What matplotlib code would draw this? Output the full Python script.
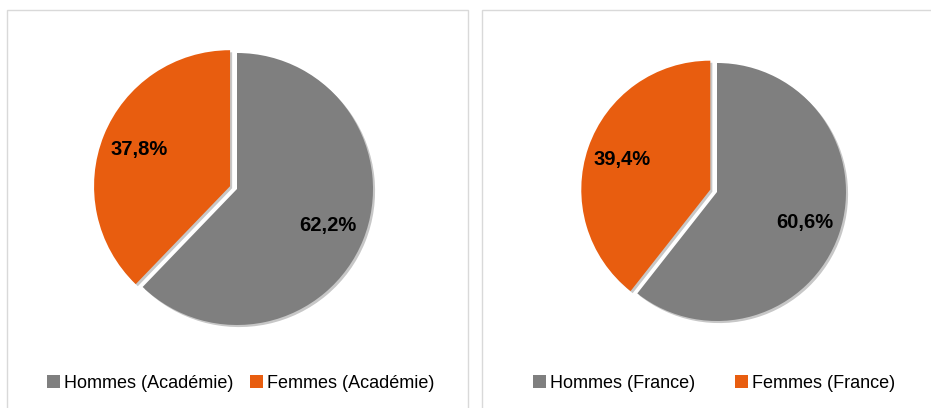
import numpy as np
import matplotlib.pyplot as plt
import matplotlib.patheffects as pe
from matplotlib.patches import Rectangle, Patch

W, H = 931, 408

categories_academie = ["Hommes (Académie)", "Femmes (Académie)"]
values_academie = [62.2, 37.8]
categories_france = ["Hommes (France)", "Femmes (France)"]
values_france = [60.6, 39.4]
colors = ["#7f7f7f", "#e85d0f"]

fig = plt.figure(figsize=(W / 100, H / 100), dpi=100)
fig.patch.set_facecolor("white")

# panel frames (pixel coords, y from top)
for x0, x1 in [(7, 468), (482, 945)]:
    fig.add_artist(Rectangle((x0 / W, -0.05), (x1 - x0) / W, 1 - 10 / H + 0.05,
                             transform=fig.transFigure, fill=False,
                             edgecolor="#d9d9d9", linewidth=1.0))


def fmt(v):
    return f"{v:.1f}".replace(".", ",") + "%"


def draw_pie(values, labels, cx, cy, r, legend_x, legend_y, colspace):
    k = 1.25
    side = 2 * k * r
    ax = fig.add_axes([(cx - k * r) / W, 1 - (cy + k * r) / H, side / W, side / H])
    wedges, _ = ax.pie(values, colors=colors, startangle=90, counterclock=False,
                       explode=[0, 0.055], radius=1)
    shadow = [pe.SimplePatchShadow(offset=(1.5, -1.5), shadow_rgbFace="black", alpha=0.22),
              pe.Normal()]
    for w in wedges:
        w.set_path_effects(shadow)

    # percentage labels, placed at 72% of the radius
    for w, v in zip(wedges, values):
        mid = np.deg2rad((w.theta1 + w.theta2) / 2)
        cxw, cyw = w.center
        ax.text(cxw + 0.72 * np.cos(mid), cyw + 0.72 * np.sin(mid), fmt(v),
                ha="center", va="center", fontsize=14.5, fontweight="bold",
                family="Liberation Sans", color="black")

    ax.set_xlim(-k, k)
    ax.set_ylim(-k, k)
    ax.set_aspect("equal")
    ax.axis("off")

    handles = [Patch(facecolor=c, edgecolor="none") for c in colors]
    fig.legend(handles, labels, loc="center", ncol=2, frameon=False,
               bbox_to_anchor=(legend_x / W, 1 - legend_y / H),
               prop={"family": "Liberation Sans", "size": 13},
               handlelength=0.7, handleheight=0.7, handletextpad=0.25,
               columnspacing=colspace)


draw_pie(values_academie, categories_academie, 237, 189, 136, 241, 383, 0.9)
draw_pie(values_france, categories_france, 717, 192, 129, 714, 383, 2.2)

fig.savefig("out.png", dpi=100, facecolor="white")
